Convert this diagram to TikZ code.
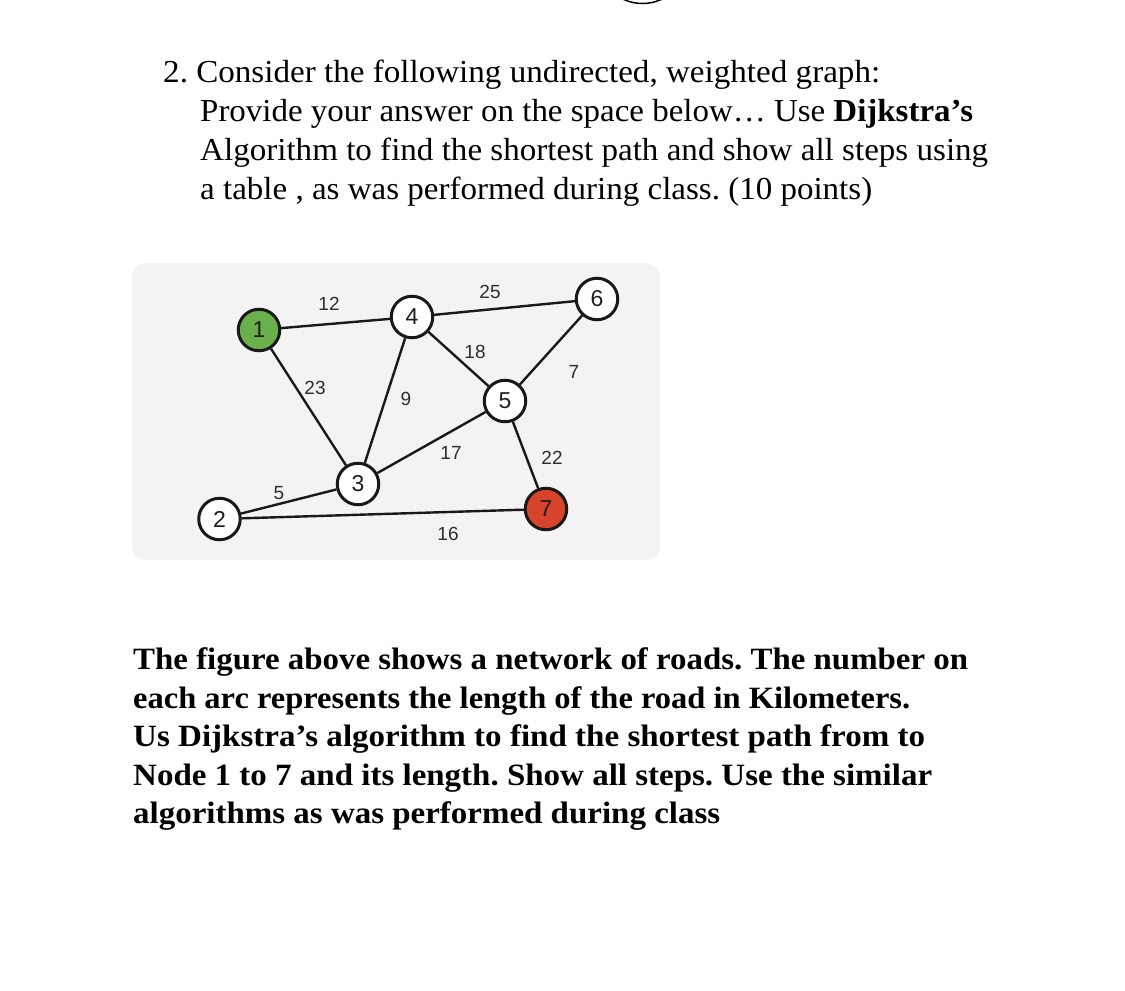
\documentclass[tikz,border=0pt]{standalone}
\usepackage{fontspec}
\setmainfont{Liberation Serif}
\newfontfamily\gsans{Liberation Sans}
\usepackage{graphicx}
\frenchspacing
\newlength\lnw
\newcommand\fitline[2]{\settowidth\lnw{#2}\pgfmathsetmacro\lnsx{#1/\lnw}\scalebox{\lnsx}[1]{#2}}
\tikzset{
  qline/.style={anchor=base west, inner sep=0pt, font=\fontsize{32}{38}\selectfont},
  bline/.style={anchor=base west, inner sep=0pt, font=\fontsize{31}{38}\selectfont\bfseries},
  vertex/.style={circle, draw=black!90, line width=3pt, fill=white, minimum size=41.5pt, inner sep=0pt,
    font=\gsans\fontsize{23}{23}\selectfont, text=black!88},
  edge/.style={draw=black!90, line width=2.4pt},
  wlabel/.style={font=\gsans\fontsize{19}{19}\selectfont, text=black!82, inner sep=0pt}
}
\definecolor{startgreen}{HTML}{6AB04C}
\definecolor{endred}{HTML}{D8432B}
\definecolor{panel}{HTML}{F3F3F3}
\begin{document}
\begin{tikzpicture}[x=1pt,y=-1pt]
\useasboundingbox (0,0) rectangle (1125,991);
\fill[white] (0,0) rectangle (1125,991);
% partial circle cut at top
\begin{scope}
\clip (0,0) rectangle (1125,991);
\draw[line width=1.5pt] (642.5,-42) circle[radius=45.5];
\end{scope}
% question text
\node[qline] (q1) at (163,82.7) {\fitline{717}{2. Consider the following undirected, weighted graph:}};
\node[qline] (q2) at (200,121) {\fitline{773}{Provide your answer on the space below… Use \textbf{Dijkstra’s}}};
\node[qline] (q3) at (200,160) {\fitline{788}{Algorithm to find the shortest path and show all steps using}};
\node[qline] (q4) at (200,199) {\fitline{672}{a table , as was performed during class. (10 points)}};
% panel
\fill[panel, rounded corners=14pt] (132,263) rectangle (660,560);
% vertices
\node[vertex, fill=startgreen] (n1) at (259,330) {1};
\node[vertex] (n4) at (412,317) {4};
\node[vertex] (n6) at (597,299) {6};
\node[vertex] (n5) at (505,401) {5};
\node[vertex] (n3) at (358,484) {3};
\node[vertex] (n2) at (219.5,519) {2};
\node[vertex, fill=endred] (n7) at (546,509) {7};
% edges
\draw[edge] (n1) -- (n4);
\draw[edge] (n1) -- (n3);
\draw[edge] (n4) -- (n6);
\draw[edge] (n4) -- (n5);
\draw[edge] (n4) -- (n3);
\draw[edge] (n6) -- (n5);
\draw[edge] (n5) -- (n3);
\draw[edge] (n5) -- (n7);
\draw[edge] (n3) -- (n2);
\draw[edge] (n2) -- (n7);
% weights
\node[wlabel] (w14) at (329,304) {12};
\node[wlabel] (w46) at (490,292) {25};
\node[wlabel] (w45) at (475,352) {18};
\node[wlabel] (w65) at (574,372) {7};
\node[wlabel] (w13) at (315,388) {23};
\node[wlabel] (w43) at (406,399) {9};
\node[wlabel] (w53) at (451,453) {17};
\node[wlabel] (w57) at (552,458) {22};
\node[wlabel] (w32) at (279,493) {5};
\node[wlabel] (w27) at (448,534) {16};
% bottom text
\node[bline] (b1) at (133,669.3) {\fitline{835}{The figure above shows a network of roads. The number on}};
\node[bline] (b2) at (133,708.3) {\fitline{777}{each arc represents the length of the road in Kilometers.}};
\node[bline] (b3) at (133,746.7) {\fitline{792}{Us Dijkstra’s algorithm to find the shortest path from to}};
\node[bline] (b4) at (133,785) {\fitline{799}{Node 1 to 7 and its length. Show all steps. Use the similar}};
\node[bline] (b5) at (133,823.3) {\fitline{587}{algorithms as was performed during class}};
\end{tikzpicture}
\end{document}
